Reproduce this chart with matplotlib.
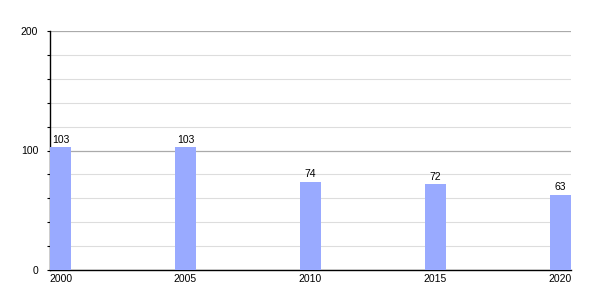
import matplotlib.pyplot as plt
import numpy as np

plt.rcParams['font.family'] = ['Liberation Sans', 'DejaVu Sans']

years = ['2000', '2005', '2010', '2015', '2020']
values = [103, 103, 74, 72, 63]

bar_w = 0.168
x = np.arange(len(years))

fig = plt.figure(figsize=(6, 3), dpi=100)
ax = fig.add_axes([50/600, 30/300, 521/600, 239/300])

ax.bar(x, values, width=bar_w, align='edge', color='#99aaff', zorder=3)
for xi, v in zip(x, values):
    ax.text(xi + bar_w/2, v + 2, str(v), ha='center', va='bottom', fontsize=7.5, zorder=4)

ax.set_xlim(0, x[-1] + bar_w)
ax.set_ylim(0, 200)
ax.set_xticks(x + bar_w/2)
ax.set_xticklabels(years, fontsize=7.5)
ax.set_yticks([0, 100, 200])
ax.set_yticklabels(['0', '100', '200'], fontsize=7.5)
ax.set_yticks(np.arange(0, 201, 20), minor=True)

ax.grid(axis='y', which='major', color='#aaaaaa', linewidth=0.9, zorder=0)
ax.grid(axis='y', which='minor', color='#dddddd', linewidth=0.8, zorder=0)
ax.tick_params(axis='x', length=0, pad=3)
ax.tick_params(axis='y', which='both', length=2.5, width=0.8, pad=6)

for s in ['top', 'right']:
    ax.spines[s].set_visible(False)
ax.spines['left'].set_linewidth(1)
ax.spines['bottom'].set_linewidth(1)

fig.savefig('out.png')
